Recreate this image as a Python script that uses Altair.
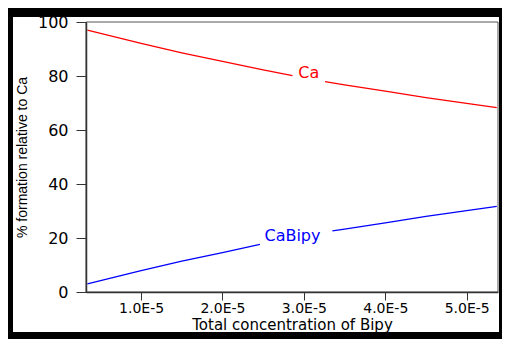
import altair as alt
import pandas as pd

# Total concentration of Bipy (mol/L) and % formation
ca_x = [3.4e-6, 1.0e-5, 1.5e-5, 2.0e-5, 2.5e-5, 2.86e-5, 3.26e-5, 3.5e-5, 4.0e-5, 4.5e-5, 5.0e-5, 5.37e-5]
ca_y = [97.0, 92.1, 88.6, 85.4, 82.3, 80.1, 77.9, 76.7, 74.4, 72.0, 69.9, 68.3]
ca_seg = [1, 1, 1, 1, 1, 1, 2, 2, 2, 2, 2, 2]

bipy_x = [3.4e-6, 1.0e-5, 1.5e-5, 2.0e-5, 2.46e-5, 3.35e-5, 3.5e-5, 4.0e-5, 4.5e-5, 5.0e-5, 5.37e-5]
bipy_y = [3.0, 7.9, 11.4, 14.6, 17.6, 22.6, 23.3, 25.6, 28.0, 30.1, 31.7]
bipy_seg = [1, 1, 1, 1, 1, 2, 2, 2, 2, 2, 2]

label_text = ["Ca", "CaBipy"]
label_x = [3.06e-5, 2.86e-5]
label_y = [81.0, 20.8]
series_colors = ["#ff0000", "#0000ff"]

x_ticks = [1e-5, 2e-5, 3e-5, 4e-5, 5e-5]
y_ticks = [0, 10, 20, 30, 40, 50, 60, 70, 80, 90, 100]

W, H = 412, 270

rows = []
for x, y, s in zip(ca_x, ca_y, ca_seg):
    rows.append({"conc": x, "pct": y, "series": "Ca", "seg": f"Ca{s}"})
for x, y, s in zip(bipy_x, bipy_y, bipy_seg):
    rows.append({"conc": x, "pct": y, "series": "CaBipy", "seg": f"CaBipy{s}"})
df = pd.DataFrame(rows)
labels = pd.DataFrame({"conc": label_x, "pct": label_y, "text": label_text, "series": label_text})

xscale = alt.Scale(domain=[3.23e-6, 5.385e-5], nice=False, zero=False)
yscale = alt.Scale(domain=[0, 100], nice=False)
cscale = alt.Scale(domain=label_text, range=series_colors)

xaxis = alt.Axis(
    values=x_ticks,
    labelExpr="format(datum.value * 100000, '.1f') + 'E-5'",
    title="Total concentration of  Bipy",
    grid=False, tickSize=8, labelPadding=1.5, titlePadding=2,
    labelFont="DejaVu Sans", labelFontSize=14, titleFont="DejaVu Sans",
    titleFontSize=15, titleFontWeight="normal", zindex=2,
)
yaxis = alt.Axis(
    values=y_ticks,
    labelExpr="datum.value % 20 == 0 ? datum.label : ''",
    title="% formation relative to Ca",
    grid=False, tickSize={"expr": "datum.value % 20 == 0 ? 10 : 7"},
    labelPadding=8, titlePadding=8,
    labelFont="DejaVu Sans", labelFontSize=16, titleFont="Liberation Sans",
    titleFontSize=14, titleFontWeight="normal", zindex=2,
)

frame = alt.Chart(alt.Data(values=[{"a": 1}])).mark_rect(color="white").encode(
    x=alt.value(-73), x2=alt.value(W + 1), y=alt.value(-5), y2=alt.value(310)
)
border = alt.Chart(alt.Data(values=[{"a": 1}])).mark_rect(
    fill="transparent", stroke="#555555", strokeWidth=1
).encode(x=alt.value(0), x2=alt.value(W), y=alt.value(0), y2=alt.value(H))

lines = alt.Chart(df).mark_line(strokeWidth=1.3).encode(
    x=alt.X("conc:Q", scale=xscale, axis=xaxis),
    y=alt.Y("pct:Q", scale=yscale, axis=yaxis),
    color=alt.Color("series:N", scale=cscale, legend=None),
    detail="seg:N",
)
texts = alt.Chart(labels).mark_text(
    font="DejaVu Sans", fontSize=16, baseline="middle", align="center"
).encode(
    x=alt.X("conc:Q", scale=xscale),
    y=alt.Y("pct:Q", scale=yscale),
    text="text:N",
    color=alt.Color("series:N", scale=cscale, legend=None),
)

chart = alt.layer(frame, border, lines, texts).properties(
    width=W, height=H,
    autosize=alt.AutoSizeParams(type="none"),
    padding={"left": 78, "top": 14, "right": 494 - 78 - W, "bottom": 47},
    background="black",
).configure_view(stroke=None).configure_axis(
    domainColor="#333333", domainWidth=1.5, tickColor="#333333",
    labelColor="black", titleColor="black",
)

chart.save("out.html", embed_options={"renderer": "svg", "actions": False})
